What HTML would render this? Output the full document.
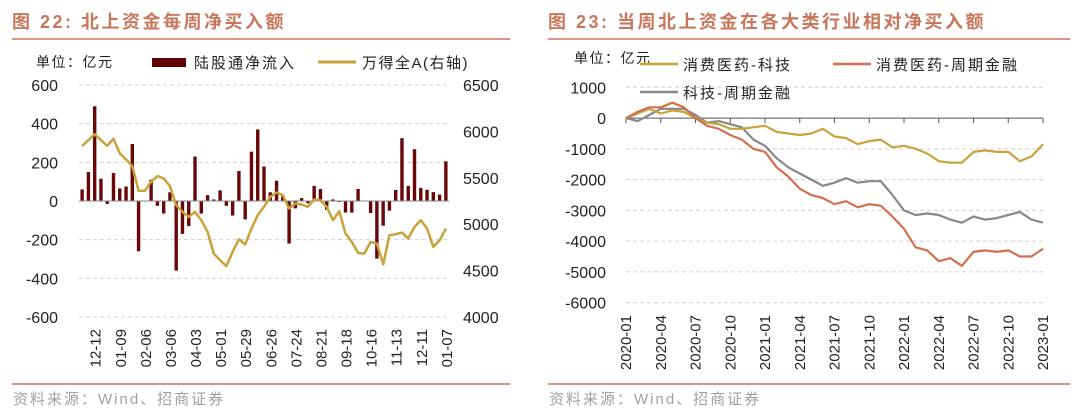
<!DOCTYPE html>
<html><head><meta charset="utf-8">
<style>
html,body{margin:0;padding:0;background:#fff;}
svg{display:block;font-family:"Liberation Sans","Noto Sans CJK SC",sans-serif;}
</style></head>
<body>
<svg id="svg" width="1080" height="414" viewBox="0 0 1080 414" xmlns="http://www.w3.org/2000/svg">
  <g>
    <text x="12" y="28" font-size="18" font-weight="bold" fill="#c8765c" letter-spacing="2.5">图 22:  北上资金每周净买入额</text>
    <line x1="12" y1="39" x2="510" y2="39" stroke="#c8765c" stroke-width="1.5"/>
  </g>
  <g>
    <text x="548" y="28" font-size="18" font-weight="bold" fill="#c8765c" letter-spacing="2.5">图 23:  当周北上资金在各大类行业相对净买入额</text>
    <line x1="548" y1="39" x2="1070" y2="39" stroke="#c8765c" stroke-width="1.5"/>
  </g>
  <line x1="12" y1="384" x2="510" y2="384" stroke="#c8765c" stroke-width="1.5"/>
  <line x1="548" y1="384" x2="1070" y2="384" stroke="#c8765c" stroke-width="1.5"/>
  <text x="13" y="404" font-size="15" fill="#a0a0a0" letter-spacing="2">资料来源：Wind、招商证券</text>
  <text x="549" y="404" font-size="15" fill="#a0a0a0" letter-spacing="2">资料来源：Wind、招商证券</text>

  <g>
    <text x="36" y="67" font-size="14" fill="#222" letter-spacing="1.5">单位：亿元</text>
    <rect x="152" y="58" width="34" height="9" fill="#600000"/>
    <text x="194" y="68" font-size="15" fill="#222" letter-spacing="2">陆股通净流入</text>
    <line x1="318" y1="62" x2="356" y2="62" stroke="#c9a23a" stroke-width="3"/>
    <text x="362" y="68" font-size="15" fill="#222" letter-spacing="1.5">万得全A(右轴)</text>
  </g>
  <g id="left"></g>

  <g>
    <text x="574" y="63" font-size="14" fill="#222" letter-spacing="1.5">单位：亿元</text>
    <line x1="640" y1="64" x2="678" y2="64" stroke="#c9a23a" stroke-width="2.5"/>
    <text x="683" y="70" font-size="15" fill="#222" letter-spacing="2">消费医药-科技</text>
    <line x1="833" y1="64" x2="871" y2="64" stroke="#d0704f" stroke-width="2.5"/>
    <text x="876" y="70" font-size="15" fill="#222" letter-spacing="2">消费医药-周期金融</text>
    <line x1="640" y1="92" x2="678" y2="92" stroke="#888" stroke-width="2.5"/>
    <text x="683" y="98" font-size="15" fill="#222" letter-spacing="2">科技-周期金融</text>
  </g>
  <g id="right"></g>
</svg>
<script>
// ---- Left chart data ----
const weekLabels = ["12-12","01-09","02-06","03-06","04-03","05-01","05-29","06-26","07-24","08-21","09-18","10-16","11-13","12-11","01-07"];
const netInflow = [60,150,490,115,-15,145,65,75,295,-260,0,110,-25,-65,45,-360,-170,-130,230,-65,30,8,55,-25,-75,155,-95,255,370,178,45,105,25,-220,-38,15,-12,78,62,-45,8,-5,-60,-60,62,0,-62,-298,-128,-50,57,325,78,268,68,58,46,33,205];
const windA = [5842,5906,5971,5906,5845,5921,5763,5698,5626,5360,5360,5457,5518,5493,5410,5205,5133,5079,5133,5043,4917,4683,4611,4550,4701,4838,4781,4953,5097,5187,5295,5342,5313,5169,5223,5212,5187,5266,5259,5187,5043,5140,4899,4809,4691,4683,4809,4791,4568,4881,4892,4910,4845,4971,5043,4953,4755,4827,4953];
const leftTicks = [600,400,200,0,-200,-400,-600];
const rightTicks = [6500,6000,5500,5000,4500,4000];

// ---- Right chart data ----
const quarterLabels = ["2020-01","2020-04","2020-07","2020-10","2021-01","2021-04","2021-07","2021-10","2022-01","2022-04","2022-07","2022-10","2023-01"];
const consumerTech = [0,150,300,150,250,200,0,-150,-200,-350,-350,-300,-250,-450,-500,-550,-500,-350,-600,-650,-850,-750,-700,-950,-900,-1000,-1150,-1400,-1450,-1450,-1100,-1050,-1100,-1100,-1400,-1250,-850];
const consumerCyclical = [0,200,350,350,500,350,0,-250,-350,-550,-700,-1000,-1100,-1600,-1900,-2300,-2500,-2600,-2800,-2700,-2900,-2800,-2850,-3200,-3600,-4200,-4300,-4650,-4550,-4800,-4350,-4300,-4350,-4300,-4500,-4500,-4250];
const techCyclical = [0,-100,100,300,300,300,100,-150,-100,-200,-300,-700,-900,-1300,-1600,-1800,-2000,-2200,-2100,-1950,-2100,-2050,-2050,-2500,-3000,-3150,-3100,-3150,-3300,-3400,-3200,-3300,-3250,-3150,-3050,-3300,-3400];
const rYTicks = [1000,0,-1000,-2000,-3000,-4000,-5000,-6000];

const NS = "http://www.w3.org/2000/svg";
function mk(parent, tag, attrs, text) {
  const e = document.createElementNS(NS, tag);
  for (const k in attrs) e.setAttribute(k, attrs[k]);
  if (text !== undefined) e.textContent = text;
  parent.appendChild(e);
  return e;
}

// Left chart
(function(){
  const g = document.getElementById('left');
  const x0 = 79, x1 = 449, yTop = 85, yBot = 317;
  const yL = v => yTop + (600 - v) / 1200 * (yBot - yTop);
  const yR = v => yTop + (6500 - v) / 2500 * (yBot - yTop);
  const n = netInflow.length;
  const step = (x1 - x0) / n;
  const xb = i => x0 + step * (i + 0.5);
  leftTicks.forEach(t => {
    if (t !== 0) {
      const l = mk(g, 'line', {x1:x0, x2:x1, y1:yL(t), y2:yL(t), stroke:'#d0d0d0', 'stroke-dasharray':'4,3'});
      
      
    }
    const tx = mk(g, 'text', {x:58, y:yL(t)+6, 'font-size':16, 'text-anchor':'end', fill:'#222'}, String(t));
    
    
  });
  rightTicks.forEach(t => {
    const tx = mk(g, 'text', {x:463, y:yR(t)+6, 'font-size':16, fill:'#222'}, String(t));
    
    
  });
  netInflow.forEach((v, i) => {
    const y = yL(v), y0 = yL(0);
    const r = mk(g, 'rect', {x:xb(i)-1.7, y:Math.min(y,y0), width:3.4, height:Math.max(Math.abs(y-y0),0.5), fill:'#680808'});
    
    
  });
  const ax = mk(g, 'line', {x1:x0, x2:x1, y1:yL(0), y2:yL(0), stroke:'#888', 'stroke-width':1});
  
  
  const pts = windA.map((v, i) => xb(i).toFixed(1) + ',' + yR(v).toFixed(1)).join(' ');
  const pl = mk(g, 'polyline', {points:pts, fill:'none', stroke:'#c9a23a', 'stroke-width':2.5, 'stroke-linejoin':'round'});
  
  
  weekLabels.forEach((lab, k) => {
    const i = 2 + 4 * k;
    const x = xb(i) + 1;
    const tx = mk(g, 'text', {x:0, y:0, 'font-size':15, 'text-anchor':'end', fill:'#222', transform:`translate(${x+5},329) rotate(-90)`}, lab);
    
    
  });
})();

// Right chart
(function(){
  const g = document.getElementById('right');
  const x0 = 626, x1 = 1043, yTop = 87.3, yBot = 302.7;
  const y = v => yTop + (1000 - v) / 7000 * (yBot - yTop);
  const n = consumerTech.length;
  const xm = i => x0 + (x1 - x0) * i / (n - 1);
  rYTicks.forEach(t => {
    if (t !== 0) {
      const l = mk(g, 'line', {x1:x0, x2:x1, y1:y(t), y2:y(t), stroke:'#d0d0d0', 'stroke-dasharray':'4,3'});
      
      
    }
    const tx = mk(g, 'text', {x:606, y:y(t)+6, 'font-size':16, 'text-anchor':'end', fill:'#222'}, String(t));
    
    
  });
  const ax = mk(g, 'line', {x1:x0, x2:x1, y1:y(0), y2:y(0), stroke:'#555', 'stroke-width':1});
  
  
  quarterLabels.forEach((lab, k) => {
    const x = xm(k * 3);
    const tk = mk(g, 'line', {x1:x, x2:x, y1:y(0), y2:y(0)+5, stroke:'#555'});
    
    
    const tx = mk(g, 'text', {x:0, y:0, 'font-size':15, 'text-anchor':'end', fill:'#222', transform:`translate(${x+5},315) rotate(-90)`}, lab);
    
    
  });
  const series = [[techCyclical,'#888','line-tech-cyclical'],[consumerTech,'#c9a23a','line-consumer-tech'],[consumerCyclical,'#d0704f','line-consumer-cyclical']];
  series.forEach(s => {
    const pts = s[0].map((v, i) => xm(i).toFixed(1) + ',' + y(v).toFixed(1)).join(' ');
    const pl = mk(g, 'polyline', {points:pts, fill:'none', stroke:s[1], 'stroke-width':2.2, 'stroke-linejoin':'round'});
    
    
  });
})();
</script>
</body></html>
